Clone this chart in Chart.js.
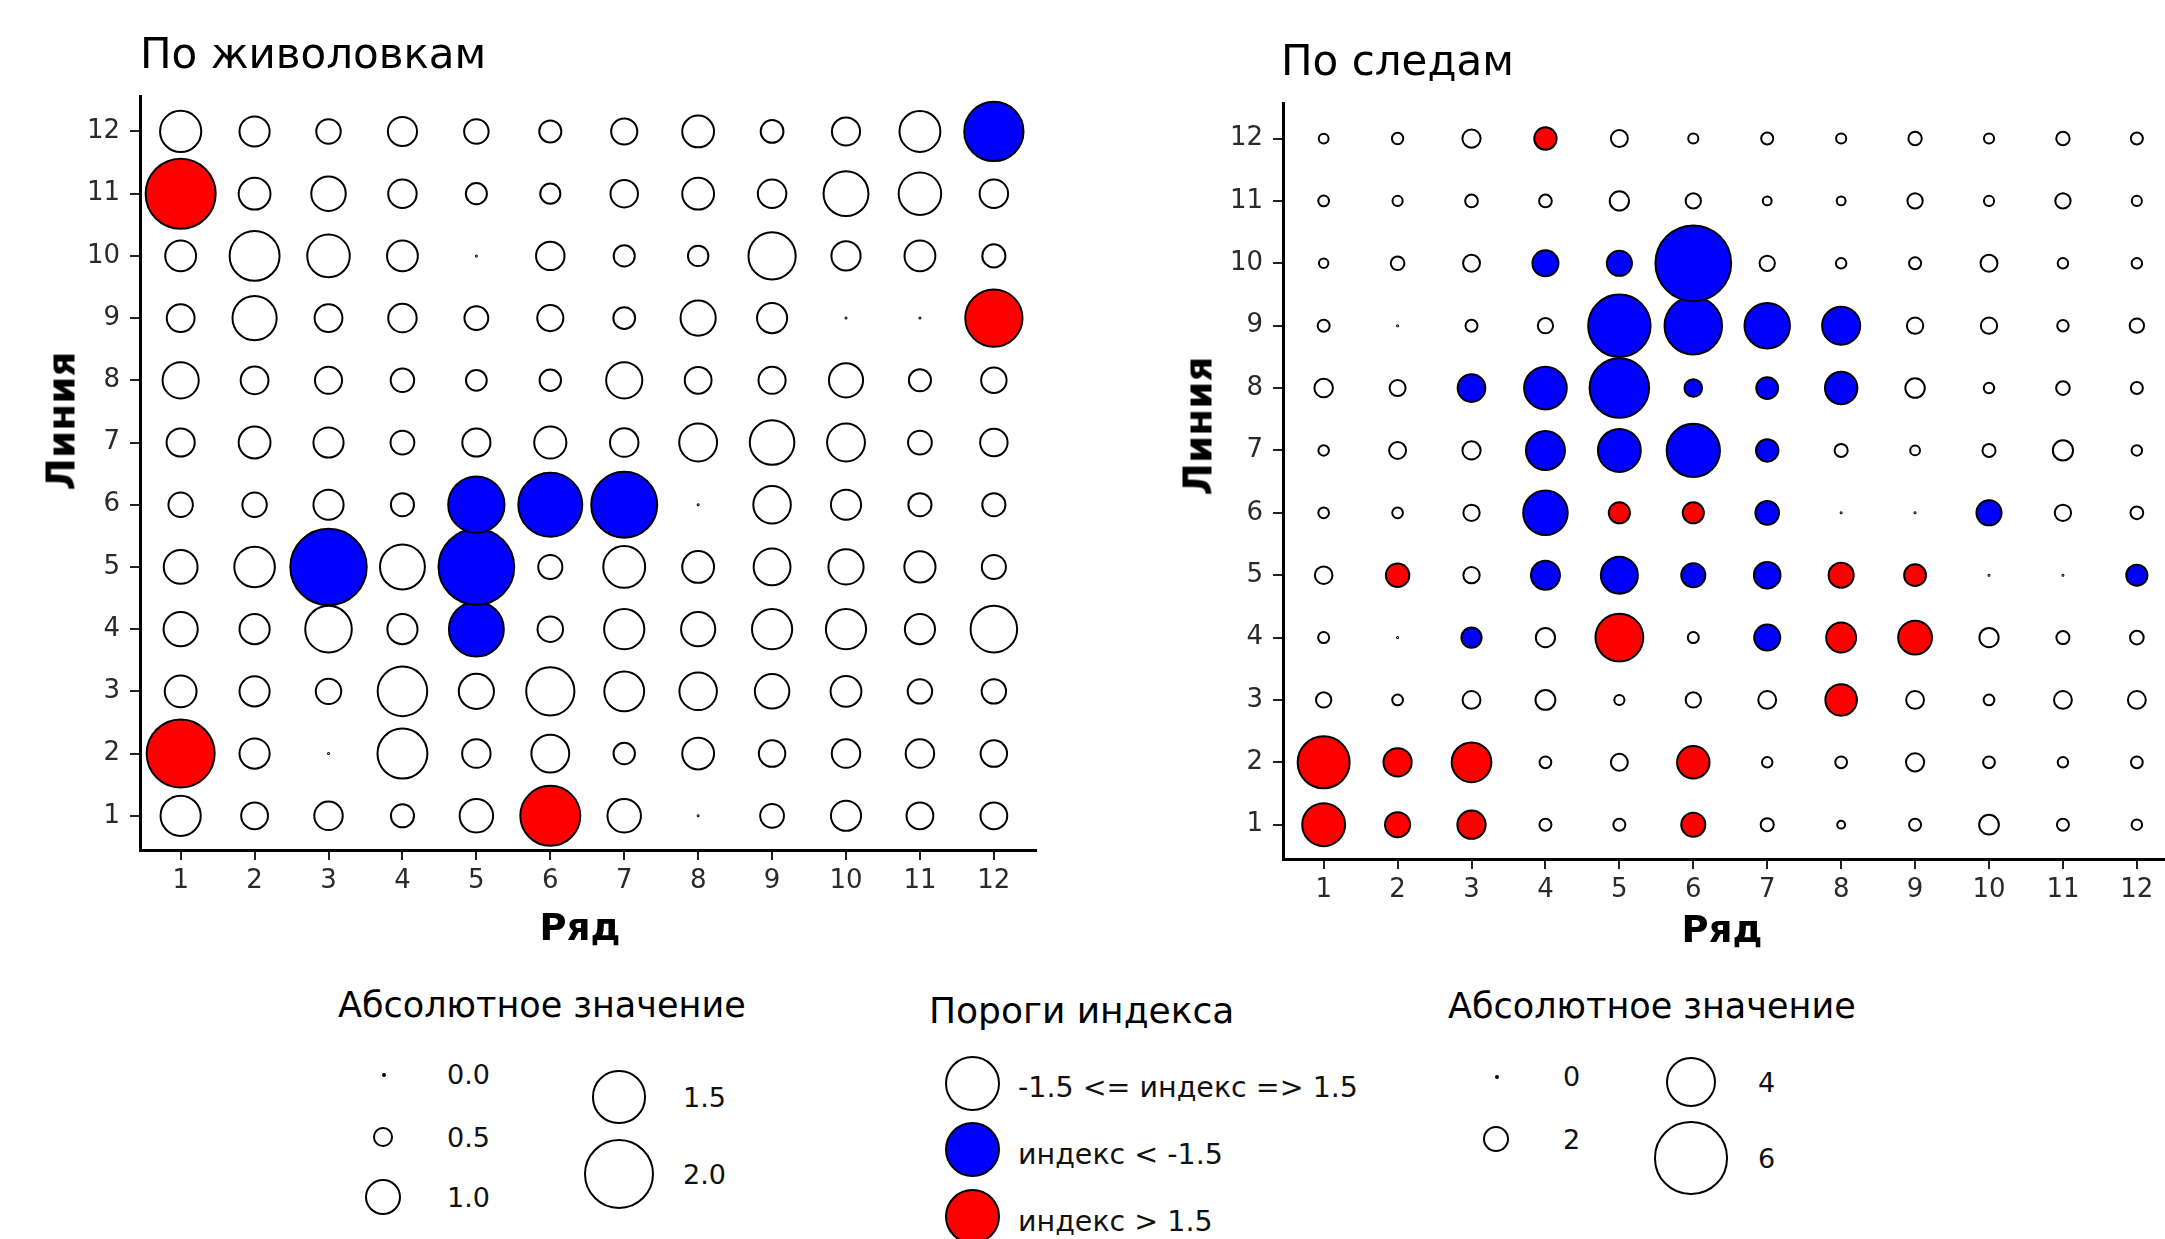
<!DOCTYPE html>
<html>
<head>
<meta charset="utf-8">
<script src="https://cdn.jsdelivr.net/npm/chart.js"></script>
<style>
html, body { margin: 0; padding: 0; background: #fff; }
body { width: 2165px; height: 1239px; overflow: hidden; position: relative; font-family: 'DejaVu Sans', sans-serif; color: #000; }
canvas { position: absolute; }
.txt { position: absolute; white-space: nowrap; line-height: 1; }
.lbl { position: absolute; white-space: nowrap; font-size: 27px; line-height: 30px; color: #111; }
.dot { position: absolute; border: 2px solid #000; border-radius: 50%; box-sizing: border-box; background: #fff; }
</style>
</head>
<body>
<canvas id="trapChart" width="1060" height="960" style="left:0;top:0"></canvas>
<canvas id="trackChart" width="1040" height="960" style="left:1150px;top:0"></canvas>
<div id="overlay"></div>
<script>
// tick labels (same for both panels)
const rowTicks = [1, 2, 3, 4, 5, 6, 7, 8, 9, 10, 11, 12];
const colTicks = [1, 2, 3, 4, 5, 6, 7, 8, 9, 10, 11, 12];

// "По живоловкам": absolute index value, rows 12 -> 1, columns 1 -> 12
const trapSize = [
  [1.20, 0.87, 0.70, 0.84, 0.70, 0.63, 0.75, 0.92, 0.65, 0.81, 1.19, 1.74],
  [2.06, 0.92, 1.00, 0.82, 0.60, 0.57, 0.79, 0.92, 0.82, 1.31, 1.24, 0.82],
  [0.89, 1.46, 1.24, 0.89, 0.00, 0.82, 0.60, 0.58, 1.38, 0.84, 0.89, 0.66],
  [0.80, 1.29, 0.80, 0.82, 0.68, 0.75, 0.62, 1.02, 0.87, 0.00, 0.00, 1.68],
  [1.05, 0.80, 0.78, 0.67, 0.59, 0.61, 1.05, 0.77, 0.78, 0.99, 0.63, 0.73],
  [0.81, 0.92, 0.87, 0.68, 0.81, 0.93, 0.82, 1.10, 1.30, 1.10, 0.68, 0.79],
  [0.70, 0.70, 0.87, 0.66, 1.65, 1.88, 1.94, 0.00, 1.09, 0.87, 0.66, 0.66],
  [0.98, 1.18, 2.25, 1.31, 2.23, 0.69, 1.22, 0.92, 1.07, 1.02, 0.90, 0.69],
  [0.99, 0.87, 1.36, 0.87, 1.61, 0.73, 1.17, 0.99, 1.17, 1.17, 0.87, 1.36],
  [0.92, 0.87, 0.73, 1.45, 1.02, 1.41, 1.16, 1.09, 1.00, 0.89, 0.70, 0.70],
  [2.00, 0.87, 0.00, 1.46, 0.82, 1.10, 0.61, 0.92, 0.76, 0.82, 0.82, 0.76],
  [1.17, 0.77, 0.82, 0.66, 0.97, 1.76, 0.97, 0.00, 0.68, 0.87, 0.77, 0.77]
];
// threshold class: n = within, b = index < -1.5, r = index > 1.5
const trapClass = [
  "nnnnnnnnnnnb",
  "rnnnnnnnnnnn",
  "nnnnnnnnnnnn",
  "nnnnnnnnnnnr",
  "nnnnnnnnnnnn",
  "nnnnnnnnnnnn",
  "nnnnbbbnnnnn",
  "nnbnbnnnnnnn",
  "nnnnbnnnnnnn",
  "nnnnnnnnnnnn",
  "rnnnnnnnnnnn",
  "nnnnnrnnnnnn"
];

// "По следам"
const trackSize = [
  [0.75, 0.89, 1.47, 1.83, 1.36, 0.78, 0.94, 0.78, 1.06, 0.78, 1.06, 0.94],
  [0.83, 0.78, 1.00, 1.00, 1.56, 1.22, 0.67, 0.67, 1.22, 0.78, 1.22, 0.78],
  [0.72, 1.08, 1.36, 2.14, 2.06, 6.39, 1.22, 0.81, 0.94, 1.36, 0.81, 0.81],
  [0.94, 0.00, 0.94, 1.22, 5.25, 4.83, 3.80, 3.17, 1.31, 1.31, 0.89, 1.14],
  [1.50, 1.28, 2.28, 3.56, 5.00, 1.42, 1.78, 2.69, 1.58, 0.81, 1.08, 0.94],
  [0.81, 1.36, 1.47, 3.25, 3.58, 4.47, 1.83, 1.03, 0.75, 1.03, 1.64, 0.81],
  [0.83, 0.83, 1.31, 3.72, 1.72, 1.72, 1.94, 0.00, 0.00, 2.06, 1.31, 1.00],
  [1.42, 1.92, 1.31, 2.39, 3.08, 1.97, 2.19, 2.06, 1.78, 0.00, 0.00, 1.72],
  [0.86, 0.00, 1.64, 1.56, 4.00, 0.86, 2.14, 2.47, 2.81, 1.56, 1.03, 1.08],
  [1.22, 0.83, 1.44, 1.61, 0.78, 1.22, 1.44, 2.61, 1.44, 0.83, 1.44, 1.44],
  [4.36, 2.33, 3.31, 0.92, 1.36, 2.69, 0.81, 0.92, 1.47, 0.92, 0.81, 0.92],
  [3.58, 2.06, 2.33, 0.94, 0.94, 1.97, 1.03, 0.58, 0.94, 1.60, 0.94, 0.81]
];
const trackClass = [
  "nnnrnnnnnnnn",
  "nnnnnnnnnnnn",
  "nnnbbbnnnnnn",
  "nnnnbbbbnnnn",
  "nnbbbbbbnnnn",
  "nnnbbbbnnnnn",
  "nnnbrrbnnbnn",
  "nrnbbbbrrnnb",
  "nnbnrnbrrnnn",
  "nnnnnnnrnnnn",
  "rrrnnrnnnnnn",
  "rrrnnrnnnnnn"
];

// legend breaks
const trapLegend = [0.0, 0.5, 1.0, 1.5, 2.0];
const trackLegend = [0, 2, 4, 6];
const classLegend = ["-1.5 <= индекс => 1.5", "индекс < -1.5", "индекс > 1.5"];

const fillFor = { n: '#FFFFFF', b: '#0000FF', r: '#FF0000' };

// radius is linear in the absolute value (pixels, border drawn on top)
const trapRadius = v => 0.5 + 16.75 * v;
const trackRadius = v => 0.5 + 5.85 * v;

function buildPoints(sizes, classes, radius) {
    let pts = [];
    let fills = [];
    // lower rows first, so upper rows are painted over them
    for (let i = sizes.length - 1; i >= 0; i--) {
        let row = rowTicks[sizes.length - 1 - i];
        for (let j = 0; j < sizes[i].length; j++) {
            pts.push({ x: colTicks[j], y: row, r: radius(sizes[i][j]) });
            fills.push(fillFor[classes[i][j]]);
        }
    }
    return { pts, fills };
}

function axis(ticks, fit, isX) {
    return {
        type: 'linear',
        min: 0.45,
        max: 12.57,
        afterBuildTicks: s => { s.ticks = ticks.map(v => ({ value: v })); },
        afterFit: s => { if (isX) s.height = fit; else s.width = fit; },
        grid: { drawOnChartArea: false, drawTicks: true, tickLength: 10, tickWidth: 2, tickColor: '#222', lineWidth: 2, color: '#222' },
        border: { display: true, color: '#000', width: 3 },
        ticks: { font: { family: 'DejaVu Sans', size: 26 }, color: '#2a2a2a', padding: isX ? 6 : 10, autoSkip: false, maxRotation: 0 }
    };
}

function makeChart(id, sizes, classes, radius, pad, yWidth, xHeight) {
    let d = buildPoints(sizes, classes, radius);
    return new Chart(document.getElementById(id).getContext('2d'), {
        type: 'bubble',
        data: {
            datasets: [{
                data: d.pts,
                backgroundColor: d.fills,
                borderColor: '#000',
                borderWidth: 2,
                hoverRadius: 0
            }]
        },
        options: {
            responsive: false,
            animation: false,
            events: [],
            clip: false,
            layout: { padding: pad, autoPadding: false },
            plugins: { legend: { display: false }, tooltip: { enabled: false } },
            scales: {
                x: axis(colTicks, xHeight, true),
                y: axis(rowTicks, yWidth, false)
            }
        }
    });
}

// chart area: left panel x 140-1036, y 96-850; right panel x 1283-2179, y 103-859
makeChart('trapChart', trapSize, trapClass, trapRadius, { top: 96, right: 24, left: 0, bottom: 0 }, 140, 110);
makeChart('trackChart', trackSize, trackClass, trackRadius, { top: 103, right: 11, left: 0, bottom: 0 }, 133, 101);

// titles, axis names and legends
const overlay = document.getElementById('overlay');
function addText(text, left, top, size, extra) {
    let el = document.createElement('div');
    el.className = 'txt';
    el.textContent = text;
    el.style.left = left + 'px';
    el.style.top = top + 'px';
    el.style.fontSize = size + 'px';
    if (extra) Object.assign(el.style, extra);
    overlay.appendChild(el);
    return el;
}
function addLabel(text, left, cy, size) {
    let el = document.createElement('div');
    el.className = 'lbl';
    el.textContent = text;
    el.style.left = left + 'px';
    el.style.top = (cy - 15) + 'px';
    if (size) el.style.fontSize = size + 'px';
    overlay.appendChild(el);
}
function addCircle(cx, cy, d, fill) {
    let el = document.createElement('div');
    el.className = 'dot';
    el.style.width = d + 'px';
    el.style.height = d + 'px';
    el.style.left = (cx - d / 2) + 'px';
    el.style.top = (cy - d / 2) + 'px';
    el.style.background = fill;
    overlay.appendChild(el);
}

addText('По живоловкам', 140, 33, 42);
addText('По следам', 1281, 40, 42);
addText('Линия', 61, 421, 39, { fontWeight: 'bold', transform: 'translate(-50%,-50%) rotate(-90deg)' });
addText('Линия', 1198, 426, 39, { fontWeight: 'bold', transform: 'translate(-50%,-50%) rotate(-90deg)' });
addText('Ряд', 580, 909, 37, { fontWeight: 'bold', transform: 'translateX(-50%)' });
addText('Ряд', 1722, 911, 37, { fontWeight: 'bold', transform: 'translateX(-50%)' });

// left size legend
addText('Абсолютное значение', 338, 988, 35);
const trapSpots = [[383, 1074, 447], [383, 1137, 447], [383, 1197, 447], [619, 1097, 683], [619, 1174, 683]];
trapLegend.forEach((v, i) => {
    let s = trapSpots[i];
    addCircle(s[0], s[1], 2 * trapRadius(v) + 2, '#fff');
    addLabel(v.toFixed(1), s[2], s[1] + 1);
});

// colour legend
addText('Пороги индекса', 929, 993, 36);
const classFills = ['#FFFFFF', '#0000FF', '#FF0000'];
const classSpots = [[1083, 1088], [1149, 1155], [1216, 1222]];
classLegend.forEach((t, i) => {
    addCircle(972, classSpots[i][0], 55, classFills[i]);
    addLabel(t, 1018, classSpots[i][1], 28.5);
});

// right size legend
addText('Абсолютное значение', 1448, 989, 35);
const trackSpots = [[1496, 1076, 1563], [1496, 1139, 1563], [1691, 1082, 1758], [1691, 1158, 1758]];
trackLegend.forEach((v, i) => {
    let s = trackSpots[i];
    addCircle(s[0], s[1], 2 * trackRadius(v) + 2, '#fff');
    addLabel(String(v), s[2], s[1] + 1);
});
</script>
</body>
</html>
